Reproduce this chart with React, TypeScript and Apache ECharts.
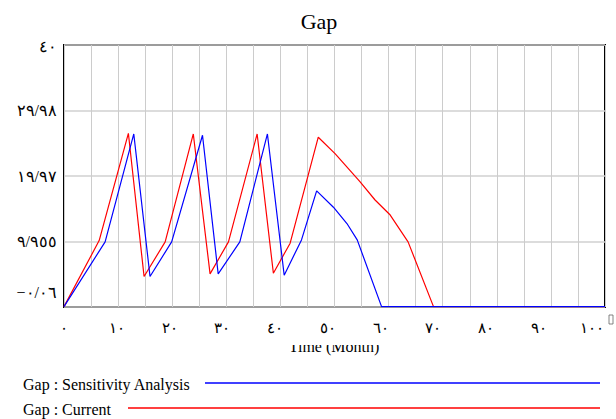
import React, { useEffect, useRef } from 'react';
import * as echarts from 'echarts';

const chartTitle = 'Gap';
const xAxisName = 'Time (Month)';
const seriesNames = ['Gap : Sensitivity Analysis', 'Gap : Current'];
const seriesColors = ['#0000ff', '#ff0000'];

// x tick labels (0..100 step 10), Arabic-Indic digits
const xTickLabels = ['٠', '١٠', '٢٠', '٣٠', '٤٠', '٥٠', '٦٠', '٧٠', '٨٠', '٩٠', '١٠٠'];
// y tick values and labels
const yTickValues = [-0.06, 9.955, 19.97, 29.985, 40];
const yTickLabels = ['−٠/٠٦', '٩/٩٥٥', '١٩/٩٧', '٢٩/٩٨', '٤٠'];

// Gap : Sensitivity Analysis (blue)
const blueTime = [0, 7.6, 12.9, 15.9, 19.9, 25.6, 28.5, 32.5, 37.6, 40.7, 43.9, 46.7, 49.8, 52.3, 54.2, 58.7, 100];
const blueGap = [0, 9.9, 26.4, 4.6, 9.9, 26.2, 5.0, 9.9, 26.4, 4.8, 10.2, 17.7, 15.2, 12.7, 10.2, 0, 0];

// Gap : Current (red)
const redTime = [0, 6.5, 11.9, 14.8, 18.7, 23.9, 27.0, 30.4, 35.7, 38.7, 41.8, 47.0, 50.1, 54.7, 57.5, 60.3, 63.6, 68.3, 100];
const redGap = [0, 10.1, 26.5, 4.6, 9.9, 26.4, 5.0, 9.9, 26.4, 5.1, 9.7, 25.9, 23.4, 19.1, 16.3, 14.0, 9.9, 0, 0];

const FONT = '"Liberation Serif", "Times New Roman", Times, serif';

export default function App() {
  const ref = useRef<HTMLDivElement>(null);
  useEffect(() => {
    const chart = echarts.init(ref.current!, null, { renderer: 'svg' });
    const yMin = yTickValues[0];
    const yMax = yTickValues[yTickValues.length - 1];
    const yStep = yTickValues[1] - yTickValues[0];
    const option: any = {
      animation: false,
      backgroundColor: '#ffffff',
      textStyle: { fontFamily: FONT },
      grid: {
        left: 64, right: 11, top: 45, bottom: 112,
        show: true, borderColor: '#000000', borderWidth: 2, backgroundColor: 'transparent',
      },
      xAxis: [
        {
          type: 'value', min: 0, max: 100, interval: 5,
          axisLine: { show: false }, axisTick: { show: false }, axisLabel: { show: false },
          splitLine: { show: true, lineStyle: { color: '#cccccc', width: 1 } },
        },
        {
          type: 'value', min: 0, max: 102.5, interval: 10, position: 'bottom',
          axisLine: { show: false }, axisTick: { show: false }, splitLine: { show: false },
          axisLabel: {
            show: true, margin: 13, fontSize: 15, color: '#000', fontFamily: FONT,
            showMaxLabel: false,
            formatter: (v: number) => {
              const i = Math.round(v / 10);
              return Math.abs(v - i * 10) < 1e-6 && i < xTickLabels.length ? xTickLabels[i] : '';
            },
          },
        },
      ],
      yAxis: [
        {
          type: 'value', min: yMin, max: yMax, show: false,
          splitLine: { show: false },
        },
        {
          type: 'value', min: 0, max: yMax - yMin, interval: yStep, position: 'left',
          axisLine: { show: false }, axisTick: { show: false },
          splitLine: { show: true, lineStyle: { color: '#d0d0d0', width: 1.5 } },
          axisLabel: {
            show: true, margin: 7, fontSize: 16, color: '#000', fontFamily: FONT,
            verticalAlignMinLabel: 'bottom', verticalAlignMaxLabel: 'middle',
            rich: {
              lo: { fontSize: 16, fontFamily: FONT, color: '#000', padding: [0, 0, 7, 0] },
              hi: { fontSize: 16, fontFamily: FONT, color: '#000', padding: [3, 0, 0, 0] },
            },
            formatter: (v: number) => {
              const i = Math.round(v / yStep);
              const s = yTickLabels[i] ?? '';
              if (i === 0) return `{lo|${s}}`;
              if (i === yTickLabels.length - 1) return `{hi|${s}}`;
              return s;
            },
          },
        },
      ],
      series: [
        {
          name: seriesNames[1], type: 'line', xAxisIndex: 0, yAxisIndex: 0,
          data: redTime.map((t, i) => [t, redGap[i]]),
          showSymbol: false, symbol: 'none',
          lineStyle: { color: seriesColors[1], width: 1.2 },
          itemStyle: { color: seriesColors[1] },
        },
        {
          name: seriesNames[0], type: 'line', xAxisIndex: 0, yAxisIndex: 0,
          data: blueTime.map((t, i) => [t, blueGap[i]]),
          showSymbol: false, symbol: 'none',
          lineStyle: { color: seriesColors[0], width: 1.2 },
          itemStyle: { color: seriesColors[0] },
        },
      ],
      graphic: [
        {
          type: 'text', x: 319, y: 21, z: 5,
          style: { text: chartTitle, align: 'center', verticalAlign: 'middle', fontSize: 22, fontFamily: FONT, fill: '#000' },
        },
        {
          type: 'text', x: 334, y: 354, z: 5,
          style: { text: xAxisName, align: 'center', verticalAlign: 'bottom', fontSize: 16, fontFamily: FONT, fill: '#000' },
        },
        {
          type: 'rect', z: 50,
          shape: { x: 270, y: 334, width: 130, height: 11 },
          style: { fill: '#ffffff' },
        },
        {
          type: 'rect', z: 5,
          shape: { x: 609, y: 315, width: 4, height: 9 },
          style: { fill: 'none', stroke: '#666', lineWidth: 0.8 },
        },
        {
          type: 'text', x: 23, y: 384, z: 5,
          style: { text: seriesNames[0], align: 'left', verticalAlign: 'middle', fontSize: 16, fontFamily: FONT, fill: '#000' },
        },
        {
          type: 'line', z: 5,
          shape: { x1: 205, y1: 383, x2: 600, y2: 383 },
          style: { stroke: seriesColors[0], lineWidth: 1.5 },
        },
        {
          type: 'text', x: 23, y: 409, z: 5,
          style: { text: seriesNames[1], align: 'left', verticalAlign: 'middle', fontSize: 16, fontFamily: FONT, fill: '#000' },
        },
        {
          type: 'line', z: 5,
          shape: { x1: 128, y1: 408, x2: 600, y2: 408 },
          style: { stroke: seriesColors[1], lineWidth: 1.5 },
        },
      ],
    };
    chart.setOption(option);
    return () => chart.dispose();
  }, []);
  return <div ref={ref} style={{ position: 'fixed', left: 0, top: 0, width: 616, height: 419 }} />;
}
